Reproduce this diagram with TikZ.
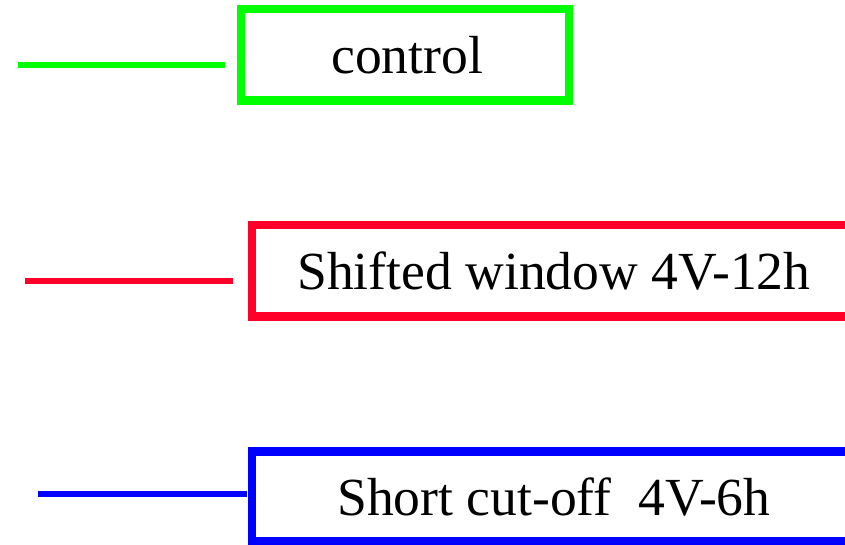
\documentclass[tikz,border=0pt]{standalone}
\usepackage{fontspec}
\setmainfont{Liberation Serif}
\definecolor{cgreen}{RGB}{0,255,0}
\definecolor{cred}{RGB}{255,0,40}
\definecolor{cblue}{RGB}{0,0,255}
\begin{document}
\begin{tikzpicture}[x=1pt,y=-1pt,
  legline/.style={line width=6pt},
  legbox/.style={draw,line width=8.5pt,rectangle,inner sep=0pt},
  legtext/.style={anchor=base west,inner sep=0pt,font=\fontsize{53.6}{60}\selectfont}]
\useasboundingbox (0,0) rectangle (845,544);
% green
\coordinate (g1) at (18,65);
\coordinate (g2) at (225,65);
\draw[legline,cgreen] (g1) -- (g2);
\node[legbox,cgreen,minimum width=328pt,minimum height=91.5pt] (gbox) at (405,54.75) {};
\node[legtext] (gtext) at (331,73) {control};
% red
\coordinate (r1) at (25,281);
\coordinate (r2) at (233,281);
\draw[legline,cred] (r1) -- (r2);
\node[legbox,cred,minimum width=628pt,minimum height=91.5pt] (rbox) at (566,270.75) {};
\node[legtext] (rtext) at (297,289) {Shifted window 4V-12h};
% blue
\coordinate (b1) at (38,494);
\coordinate (b2) at (247,494);
\draw[legline,cblue] (b1) -- (b2);
\node[legbox,cblue,minimum width=628pt,minimum height=89.5pt] (bbox) at (566,496.25) {};
\node[legtext] (btext) at (337,515) {Short cut-off~ 4V-6h};
\end{tikzpicture}
\end{document}
